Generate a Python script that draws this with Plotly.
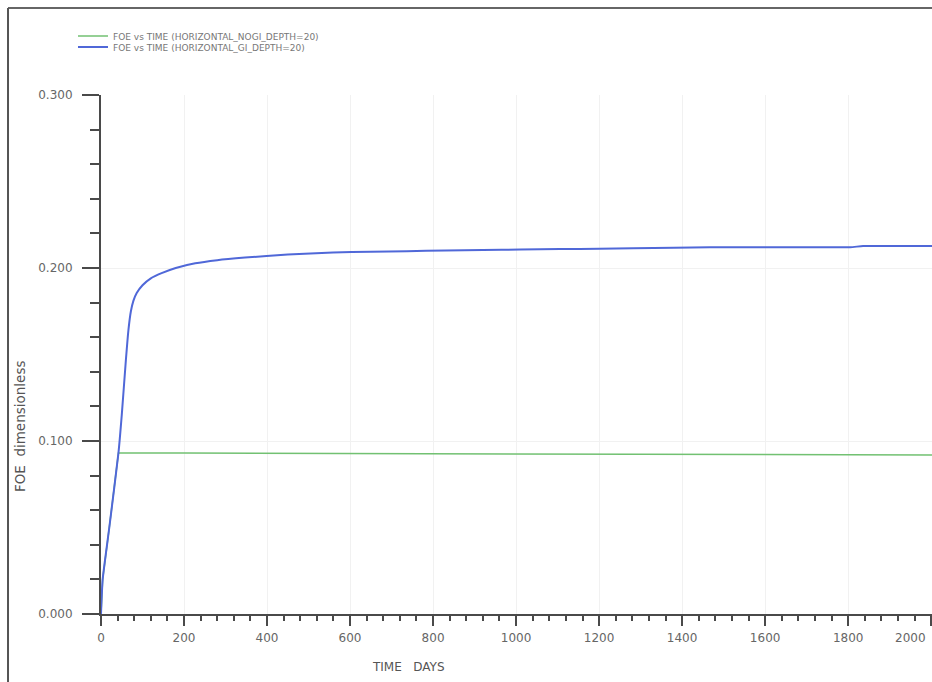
import plotly.graph_objects as go

# Data
days_gi = [0, 4, 20, 42, 50, 60, 66, 72, 78, 86, 100, 120, 146, 180, 227, 280, 347, 450, 559, 650, 737, 830, 920, 1010, 1106, 1200, 1282, 1380, 1467, 1600, 1700, 1805, 1836, 1920, 2002]
foe_gi = [0.0, 0.020, 0.050, 0.093, 0.115, 0.147, 0.164, 0.175, 0.181, 0.1855, 0.190, 0.194, 0.197, 0.200, 0.2027, 0.2045, 0.206, 0.2078, 0.209, 0.2094, 0.2097, 0.2101, 0.2104, 0.2107, 0.211, 0.2111, 0.2114, 0.2117, 0.212, 0.212, 0.212, 0.212, 0.2127, 0.2127, 0.2127]

days_nogi = [0, 4, 20, 42, 200, 600, 1000, 1400, 1800, 2002]
foe_nogi = [0.0, 0.020, 0.050, 0.093, 0.093, 0.0928, 0.0926, 0.0924, 0.0921, 0.0919]

name_nogi = "FOE vs TIME (HORIZONTAL_NOGI_DEPTH=20)"
name_gi = "FOE vs TIME (HORIZONTAL_GI_DEPTH=20)"

x_ticks = [0, 200, 400, 600, 800, 1000, 1200, 1400, 1600, 1800, 2000]
x_ticktext = ["0", "200", "400", "600", "800", "1000", "1200", "1400", "1600", "1800", ""]
last_x_tick = 2000
last_x_label = "2000"
y_ticks = [0.0, 0.1, 0.2, 0.3]
y_ticktext = ["0.000", "0.100", "0.200", "0.300"]

x_title = "TIME   DAYS"
y_title = "FOE  dimensionless"

fig = go.Figure()
fig.add_trace(go.Scatter(x=days_nogi, y=foe_nogi, mode="lines", name=name_nogi,
                         legend="legend",
                         line=dict(color="#72c172", width=1.5)))
fig.add_trace(go.Scatter(x=days_gi, y=foe_gi, mode="lines", name=name_gi,
                         legend="legend2",
                         line=dict(color="#5068d8", width=2, shape="spline", smoothing=0.5)))

axis_col = "#4a4a4a"
tick_font = dict(family="DejaVu Sans", size=12, color="#666666")
xtitle_font = dict(family="DejaVu Sans", size=12, color="#555555")
ytitle_font = dict(family="DejaVu Sans", size=13.5, color="#555555")

fig.update_xaxes(
    range=[0, 2002], tickvals=x_ticks, ticktext=x_ticktext, ticks="outside", ticklen=10,
    tickwidth=2, tickcolor=axis_col, showline=True, linecolor=axis_col, linewidth=2,
    showgrid=True, gridcolor="#f1f1f1", gridwidth=1, zeroline=False,
    minor=dict(ticks="outside", ticklen=5, tickwidth=1.5, tickcolor=axis_col, dtick=40,
               showgrid=False),
    tickfont=tick_font, ticklabelstandoff=2,
)
fig.update_yaxes(
    range=[0, 0.3], tickvals=y_ticks, ticktext=y_ticktext, ticks="outside", ticklen=17,
    tickwidth=2, tickcolor=axis_col, showline=True, linecolor=axis_col, linewidth=2,
    showgrid=True, gridcolor="#f1f1f1", gridwidth=1, zeroline=False,
    minor=dict(ticks="outside", ticklen=9, tickwidth=1.5, tickcolor=axis_col, dtick=0.02,
               showgrid=False),
    tickfont=tick_font, ticklabelstandoff=7,
)

legend_common = dict(xanchor="left", yanchor="middle",
                     font=dict(family="DejaVu Sans", size=9, color="#777777"),
                     bgcolor="rgba(0,0,0,0)", itemwidth=30, borderwidth=0)

fig.update_layout(
    width=932, height=682,
    margin=dict(l=101, r=0, t=95, b=68, autoexpand=False),
    paper_bgcolor="white", plot_bgcolor="white",
    showlegend=True,
    legend=dict(x=-0.0337, y=1.1137, **legend_common),
    legend2=dict(x=-0.0337, y=1.0925, **legend_common),
    annotations=[
        dict(text=last_x_label, xref="x", yref="paper", x=last_x_tick, y=-0.0462,
             xanchor="right", yanchor="middle", xshift=-3, showarrow=False, font=tick_font),
        dict(text=x_title, xref="paper", yref="paper", x=0.3706, y=-0.102,
             xanchor="center", yanchor="middle", showarrow=False, font=xtitle_font),
        dict(text=y_title, xref="paper", yref="paper", x=-0.0975, y=0.362,
             xanchor="center", yanchor="middle", showarrow=False, textangle=-90,
             font=ytitle_font),
    ],
    shapes=[
        dict(type="line", xref="paper", yref="paper", x0=-0.1119, x1=1.0, y0=1.1676, y1=1.1676,
             line=dict(color="#666666", width=2)),
        dict(type="line", xref="paper", yref="paper", x0=-0.1119, x1=-0.1119, y0=1.1676, y1=-0.131,
             line=dict(color="#555555", width=2)),
    ],
)

fig.write_html("out.html", config={"displayModeBar": False},
               post_script="document.body.style.margin='0px';")
